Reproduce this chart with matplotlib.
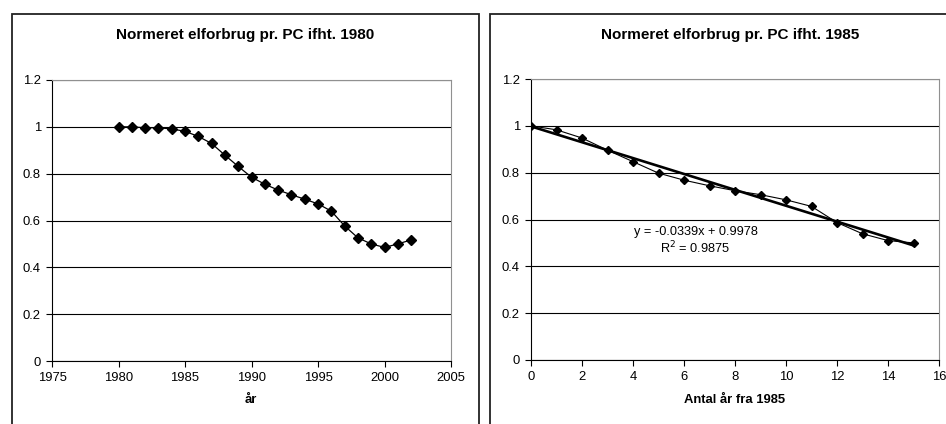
import matplotlib.pyplot as plt
from matplotlib.patches import Rectangle

plt.rcParams['font.family'] = ['Liberation Sans', 'DejaVu Sans']

# Data: normalised electricity use per PC
years = [1980, 1981, 1982, 1983, 1984, 1985, 1986, 1987, 1988, 1989, 1990, 1991,
         1992, 1993, 1994, 1995, 1996, 1997, 1998, 1999, 2000, 2001, 2002]
use_1980 = [1.0, 1.0, 0.996, 0.996, 0.991, 0.981, 0.959, 0.929, 0.879, 0.831, 0.785,
            0.755, 0.730, 0.710, 0.691, 0.671, 0.640, 0.577, 0.526, 0.500, 0.485,
            0.500, 0.517]

years_from_1985 = list(range(16))
use_1985 = [1.0, 0.983, 0.948, 0.896, 0.847, 0.798, 0.768, 0.744, 0.723, 0.706,
            0.684, 0.656, 0.587, 0.539, 0.510, 0.500]

# Trend line shown in the chart
slope = -0.0339
intercept = 0.9978
r2 = 0.9875

W, H = 946, 424
fig = plt.figure(figsize=(W / 100, H / 100), dpi=100)


def fx(px):
    return px / W


def fy(py):
    return 1 - py / H


def style_axes(ax):
    ax.set_ylim(0, 1.2)
    ax.set_yticks([0, 0.2, 0.4, 0.6, 0.8, 1.0, 1.2])
    ax.set_yticklabels(['0', '0.2', '0.4', '0.6', '0.8', '1', '1.2'])
    ax.grid(axis='y', color='black', linewidth=0.8)
    ax.set_axisbelow(True)
    for side in ['top', 'right']:
        ax.spines[side].set_color('#909090')
        ax.spines[side].set_linewidth(0.8)
    for side in ['left', 'bottom']:
        ax.spines[side].set_color('black')
        ax.spines[side].set_linewidth(0.8)
    ax.tick_params(direction='out', length=4, width=0.8, labelsize=9.4, pad=4)


# panel frames
fig.patches.append(Rectangle((fx(12), fy(440)), fx(479) - fx(12), fy(14) - fy(440),
                             transform=fig.transFigure, fill=False,
                             edgecolor='#222222', linewidth=1.3))
fig.patches.append(Rectangle((fx(490), fy(440)), fx(970) - fx(490), fy(14) - fy(440),
                             transform=fig.transFigure, fill=False,
                             edgecolor='#222222', linewidth=1.3))

# left chart
ax1 = fig.add_axes([fx(52), fy(361), fx(451) - fx(52), fy(80) - fy(361)])
ax1.plot(years, use_1980, color='black', linewidth=0.9, marker='D', markersize=5)
ax1.set_xlim(1975, 2005)
ax1.set_xticks(range(1975, 2006, 5))
style_axes(ax1)
fig.text(fx(245), fy(35), 'Normeret elforbrug pr. PC ifht. 1980', ha='center',
         va='center', fontsize=11, fontweight='bold')
fig.text(fx(251), fy(400), 'år', ha='center', va='center', fontsize=9.4,
         fontweight='bold')

# right chart
ax2 = fig.add_axes([fx(531), fy(360), fx(939) - fx(531), fy(79) - fy(360)])
ax2.plot(years_from_1985, use_1985, color='black', linewidth=0.8, marker='D',
         markersize=4.2)
x_trend = [years_from_1985[0], years_from_1985[-1]]
y_trend = [slope * x + intercept for x in x_trend]
ax2.plot(x_trend, y_trend, color='black', linewidth=1.9)
ax2.set_xlim(0, 16)
ax2.set_xticks(range(0, 17, 2))
style_axes(ax2)
ax2.text(6.45, 0.547, f'y = {slope}x + {intercept}', ha='center', va='center',
         fontsize=9.2)
ax2.text(6.45, 0.478, f'R$^2$ = {r2}', ha='center', va='center', fontsize=9.2)
fig.text(fx(730), fy(35), 'Normeret elforbrug pr. PC ifht. 1985', ha='center',
         va='center', fontsize=11, fontweight='bold')
fig.text(fx(735), fy(400), 'Antal år fra 1985', ha='center', va='center',
         fontsize=9.4, fontweight='bold')

fig.savefig('out.png', dpi=100)
